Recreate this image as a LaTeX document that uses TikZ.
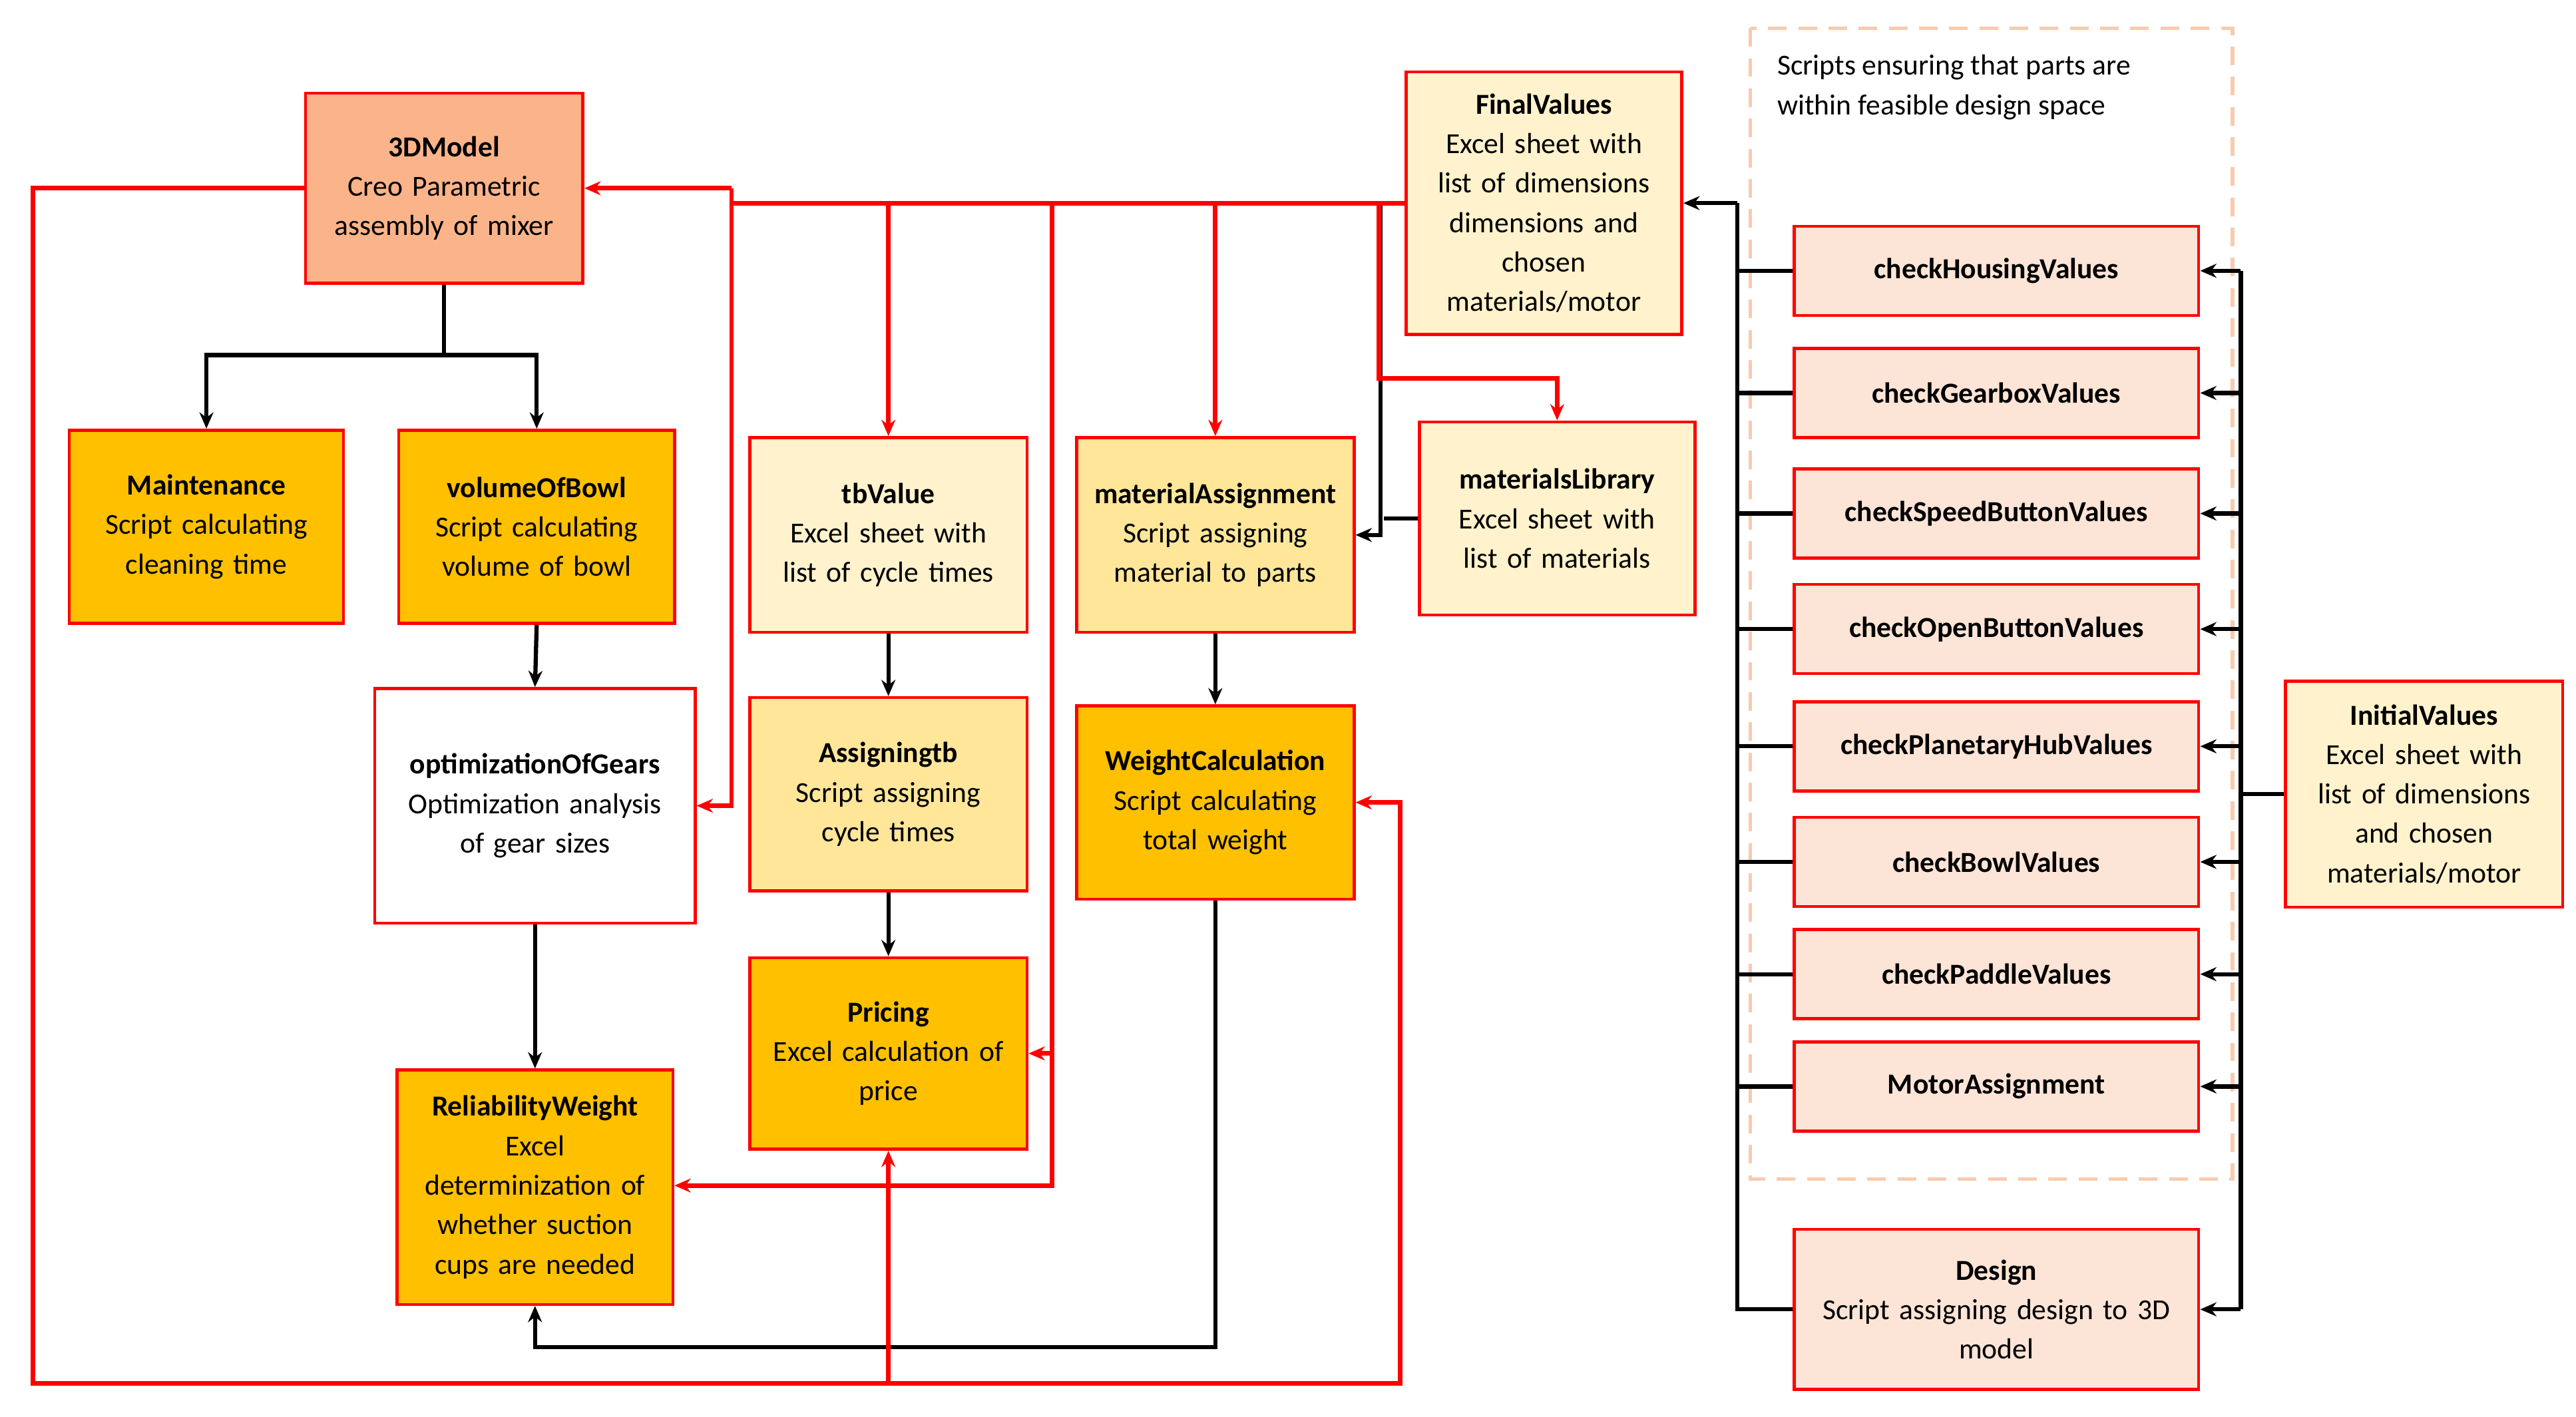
\documentclass[tikz,border=0pt]{standalone}
\usepackage{fontspec}
\setmainfont{Carlito}
\usetikzlibrary{arrows.meta}
\definecolor{dkor}{HTML}{FFC000}
\definecolor{lt}{HTML}{FFF2CC}
\definecolor{md}{HTML}{FFE699}
\definecolor{pk}{HTML}{FCE4D6}
\definecolor{sal}{HTML}{FBB48A}
\definecolor{rd}{HTML}{FF0000}
\definecolor{dashc}{HTML}{F8CBAD}
\begin{document}
\begin{tikzpicture}[x=0.025cm,y=-0.025cm,
 box/.style={draw=rd,line width=1.3pt,align=center,inner sep=2pt,font=\fontsize{12.5}{17}\selectfont},
 chk/.style={box,fill=pk,minimum width=245*0.025cm,minimum height=54*0.025cm,font=\fontsize{12.5}{17}\selectfont\bfseries},
 bl/.style={line width=1.8pt,-{Stealth[length=7pt,width=6pt]}},
 rl/.style={rd,line width=2pt,-{Stealth[length=7pt,width=6pt]}},
 bln/.style={line width=1.8pt},
 rln/.style={rd,line width=2pt}]
\useasboundingbox (0,0) rectangle (1560,858);
\fill[white] (0,0) rectangle (1560,858);
\draw[dashc,line width=1.5pt,dash pattern=on 8pt off 5pt] (1060,17) rectangle (1352,714);
\node[anchor=north west,align=left,font=\fontsize{12.5}{17}\selectfont,inner sep=0pt] (note) at (1076,33) {Scripts ensuring that parts are\\within feasible design space};
\newcommand{\bx}[7]{\node[box,fill=#4,minimum width=#5*0.025cm,minimum height=#6*0.025cm,text width=#5*0.025cm-8pt] (#1) at (#2,#3) {#7};}
\bx{m3d}{269}{114}{sal}{168}{115}{\textbf{3DModel}\\Creo Parametric\\assembly of mixer}
\bx{maint}{125}{319}{dkor}{166}{117}{\textbf{Maintenance}\\Script calculating\\cleaning time}
\bx{vol}{325}{319}{dkor}{167}{117}{\textbf{volumeOfBowl}\\Script calculating\\volume of bowl}
\bx{opt}{324}{488}{white}{194}{142}{\textbf{optimizationOfGears}\\Optimization analysis\\of gear sizes}
\bx{rel}{324}{719}{dkor}{167}{142}{\textbf{ReliabilityWeight}\\Excel\\determinization of\\whether suction\\cups are needed}
\bx{tb}{538}{324}{lt}{168}{118}{\textbf{tbValue}\\Excel sheet with\\list of cycle times}
\bx{atb}{538}{481}{md}{168}{117}{\textbf{Assigningtb}\\Script assigning\\cycle times}
\bx{pri}{538}{638}{dkor}{168}{116}{\textbf{Pricing}\\Excel calculation of\\price}
\bx{mat}{736}{324}{md}{168}{118}{\textbf{materialAssignment}\\Script assigning\\material to parts}
\bx{wc}{736}{486}{dkor}{168}{117}{\textbf{WeightCalculation}\\Script calculating\\total weight}
\bx{lib}{943}{314}{lt}{167}{117}{\textbf{materialsLibrary}\\Excel sheet with\\list of materials}
\bx{fin}{935}{123}{lt}{167}{159}{\textbf{FinalValues}\\Excel sheet with\\list of dimensions\\dimensions and\\chosen\\materials/motor}
\bx{ini}{1468}{481}{lt}{168}{137}{\textbf{InitialValues}\\Excel sheet with\\list of dimensions\\and chosen\\materials/motor}
\node[chk] (c1) at (1209,164) {checkHousingValues};
\node[chk] (c2) at (1209,238) {checkGearboxValues};
\node[chk] (c3) at (1209,311) {checkSpeedButtonValues};
\node[chk] (c4) at (1209,381) {checkOpenButtonValues};
\node[chk] (c5) at (1209,452) {checkPlanetaryHubValues};
\node[chk] (c6) at (1209,522) {checkBowlValues};
\node[chk] (c7) at (1209,590) {checkPaddleValues};
\node[chk] (c8) at (1209,658) {MotorAssignment};
\bx{des}{1209}{793}{pk}{245}{97}{\textbf{Design}\\Script assigning design to 3D\\model}
% black
\draw[bl] (m3d.south) -- (269,215) -| (maint.north);
\draw[bl] (269,215) -| (vol.north);
\draw[bl] (vol.south) -- (opt.north);
\draw[bl] (opt.south) -- (rel.north);
\draw[bl] (tb.south) -- (atb.north);
\draw[bl] (atb.south) -- (pri.north);
\draw[bl] (mat.south) -- (wc.north);
\draw[bl] (wc.south) -- (736,816) -| (rel.south);
\draw[bln] (lib.west) -- (838,314);
\draw[bl] (836,123) -- (836,324) -- (mat.east);
\draw[bl] (1052,123) -- (fin.east);
\draw[bln] (1052,123) -- (1052,793) -- (des.west);
\foreach \c in {c1,c2,c3,c4,c5,c6,c7,c8} \draw[bln] (\c.west) -- (\c.west -| 1052,0);
\draw[bln] (ini.west) -- (1357,481);
\draw[bln] (1357,164) -- (1357,793);
\foreach \c in {c1,c2,c3,c4,c5,c6,c7,c8,des} \draw[bl] (\c.east -| 1357,0) -- (\c.east);
% red
\draw[rln] (fin.west) -- (443,123) -- (443,114);
\draw[rl] (443,114) -- (m3d.east);
\draw[rl] (443,123) -- (443,488) -- (opt.east);
\draw[rl] (538,123) -- (tb.north);
\draw[rl] (637,123) -- (637,718) -- (rel.east |- 0,718);
\draw[rl] (637,638) -- (pri.east);
\draw[rl] (736,123) -- (mat.north);
\draw[rl] (835,123) -- (835,229) -| (lib.north);
\draw[rl] (m3d.west) -- (20,114) -- (20,838) -- (848,838) -- (848,486) -- (wc.east);
\draw[rl] (538,838) -- (pri.south);
\end{tikzpicture}
\end{document}
